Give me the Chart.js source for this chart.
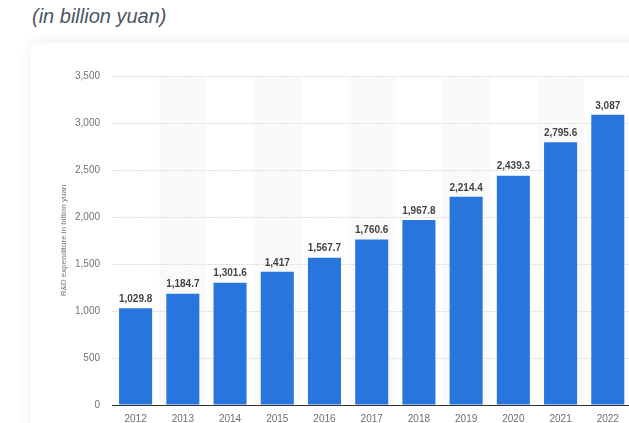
<!DOCTYPE html>
<html>
<head>
<meta charset="utf-8">
<script src="https://cdn.jsdelivr.net/npm/chart.js@4.4.1/dist/chart.umd.min.js"></script>
<style>
    html, body { margin: 0; padding: 0; background: #fff; overflow: hidden; width: 629px; height: 423px; }
    .subtitle { position: absolute; left: 32px; top: 5px; font: italic 20px "Liberation Sans", Arial, sans-serif; color: #4a5468; }
    .card { position: absolute; left: 31px; top: 43px; width: 660px; height: 420px; background: #fff; border-radius: 8px; box-shadow: 0 0 14px rgba(40, 50, 70, 0.09); }
    .wrap { position: absolute; left: 31px; top: 43px; width: 640px; height: 390px; }
</style>
</head>
<body>
<div class="subtitle">(in billion yuan)</div>
<div class="card"></div>
<div class="wrap"><canvas id="rdChart"></canvas></div>
<script>
/* R&D expenditure, 2012-2022 */
const YEARS = ['2012', '2013', '2014', '2015', '2016', '2017', '2018', '2019', '2020', '2021', '2022'];
const SPEND = [1029.8, 1184.7, 1301.6, 1417, 1567.7, 1760.6, 1967.8, 2214.4, 2439.3, 2795.6, 3087];
const Y_TICKS = [0, 500, 1000, 1500, 2000, 2500, 3000, 3500];

const BAR_BLUE = '#2876dd';
const FONT = '"Liberation Sans", Arial, sans-serif';
const fmt = v => v.toLocaleString('en-US', { maximumFractionDigits: 1 });

// light stripes behind every other year
const stripes = {
    id: 'stripes',
    beforeDraw(chart) {
        const { ctx, chartArea, scales } = chart;
        const w = scales.x.width / YEARS.length;
        ctx.save();
        ctx.fillStyle = '#fafafa';
        YEARS.forEach((_, i) => {
            if (i % 2 === 1) {
                const cx = scales.x.getPixelForValue(i);
                ctx.fillRect(cx - w / 2, chartArea.top, w, chartArea.bottom - chartArea.top);
            }
        });
        ctx.restore();
    }
};

// value labels above bars
const valueLabels = {
    id: 'valueLabels',
    afterDatasetsDraw(chart) {
        const { ctx } = chart;
        const meta = chart.getDatasetMeta(0);
        ctx.save();
        ctx.font = 'bold 10px ' + FONT;
        ctx.fillStyle = '#444';
        ctx.textAlign = 'center';
        ctx.textBaseline = 'bottom';
        meta.data.forEach((bar, i) => {
            ctx.fillText(fmt(SPEND[i]), bar.x, bar.y - 4);
        });
        ctx.restore();
    }
};

new Chart(document.getElementById('rdChart').getContext('2d'), {
    type: 'bar',
    data: {
        labels: YEARS,
        datasets: [{ data: SPEND, backgroundColor: BAR_BLUE, borderWidth: 0, barPercentage: 0.7, categoryPercentage: 1 }]
    },
    options: {
        responsive: true,
        maintainAspectRatio: false,
        animation: false,
        layout: { padding: { top: 33, right: 39.6, left: 0, bottom: 0 } },
        plugins: { legend: { display: false }, tooltip: { enabled: false } },
        scales: {
            x: {
                grid: { display: false, drawTicks: false },
                border: { display: true, color: '#333', width: 1 },
                ticks: { color: '#6e6e6e', padding: 8, font: { size: 10, family: FONT } },
                afterFit: s => { s.height = 28; }
            },
            y: {
                min: 0,
                max: 3500,
                afterBuildTicks: s => { s.ticks = Y_TICKS.map(v => ({ value: v })); },
                grid: { color: '#dedede', drawTicks: false, lineWidth: 1 },
                border: { display: false, dash: [2, 1] },
                ticks: { color: '#737373', padding: 12, font: { size: 10, family: FONT }, callback: v => v.toLocaleString('en-US') },
                title: { display: true, text: 'R&D expenditure in billion yuan', color: '#737373', padding: { top: 28, bottom: 0 }, font: { size: 8, family: FONT } },
                afterFit: s => { s.width = 81; }
            }
        }
    },
    plugins: [stripes, valueLabels]
});
</script>
</body>
</html>
